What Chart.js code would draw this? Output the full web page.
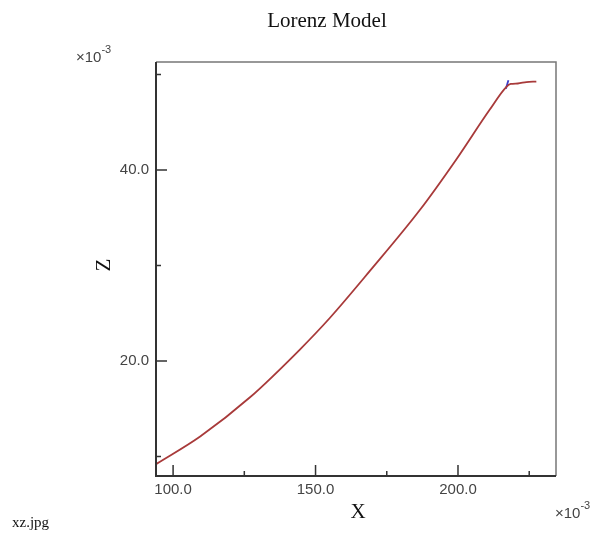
<!DOCTYPE html>
<html>
<head>
<meta charset="utf-8">
<script src="https://cdn.jsdelivr.net/npm/chart.js@4/dist/chart.umd.min.js"></script>
<style>
  html, body { margin: 0; padding: 0; background: #fff; }
  #wrap { position: relative; width: 597px; height: 534px; }
</style>
</head>
<body>
<div id="wrap"><canvas id="lorenz" width="597" height="534"></canvas></div>
<script>
// values (units of 1e-3)
const xValues = [94.0, 109.5, 127.0, 144.5, 155.0, 169.0, 186.6, 199.4, 211.1, 217.0, 218.5, 221.0, 224.0, 227.5];
const zValues = [9.2, 12.1, 16.2, 21.2, 24.5, 29.4, 35.8, 41.1, 46.3, 48.7, 49.0, 49.05, 49.2, 49.25];
const markX = [216.8, 217.7];
const markZ = [48.5, 49.4];

const xMajor = [100, 150, 200];
const xMinor = [125, 175, 225];
const zMajor = [20, 40];
const zMinor = [10, 30, 50];

const titleText = "Lorenz Model";
const xTitle = "X";
const zTitle = "Z";
const fileName = "xz.jpg";

const toPoints = (xs, ys) => xs.map((x, i) => ({x: x, y: ys[i]}));

// frame, inward ticks and loose texts
const decor = {
    id: "decor",
    afterDraw(chart) {
        const ctx = chart.ctx;
        const a = chart.chartArea;
        const sx = chart.scales.x, sy = chart.scales.y;
        ctx.save();

        ctx.strokeStyle = "#777";
        ctx.lineWidth = 1.5;
        ctx.beginPath();
        ctx.moveTo(a.left, a.top); ctx.lineTo(a.right, a.top); ctx.lineTo(a.right, a.bottom);
        ctx.stroke();

        ctx.strokeStyle = "#333";
        ctx.lineWidth = 2;
        ctx.beginPath();
        ctx.moveTo(a.left, a.top); ctx.lineTo(a.left, a.bottom); ctx.lineTo(a.right, a.bottom);
        ctx.stroke();

        ctx.lineWidth = 1.5;
        ctx.beginPath();
        xMajor.forEach(v => { let p = sx.getPixelForValue(v); ctx.moveTo(p, a.bottom); ctx.lineTo(p, a.bottom - 11); });
        xMinor.forEach(v => { let p = sx.getPixelForValue(v); ctx.moveTo(p, a.bottom); ctx.lineTo(p, a.bottom - 5); });
        zMajor.forEach(v => { let p = sy.getPixelForValue(v); ctx.moveTo(a.left, p); ctx.lineTo(a.left + 11, p); });
        zMinor.forEach(v => { let p = sy.getPixelForValue(v); ctx.moveTo(a.left, p); ctx.lineTo(a.left + 5, p); });
        ctx.stroke();

        ctx.fillStyle = "#111";
        ctx.font = "21px 'Liberation Serif'";
        ctx.textAlign = "center";
        ctx.textBaseline = "middle";
        ctx.fillText(titleText, 327, 21);
        ctx.fillText(xTitle, 358, 512);
        ctx.save();
        ctx.translate(104, 265);
        ctx.rotate(-Math.PI / 2);
        ctx.fillText(zTitle, 0, 0);
        ctx.restore();

        ctx.fillStyle = "#444";
        ctx.textAlign = "left";
        ctx.textBaseline = "alphabetic";
        const power = (x, y) => {
            ctx.font = "15px 'Liberation Sans'";
            ctx.fillText("\u00d710", x, y);
            let w = ctx.measureText("\u00d710").width;
            ctx.font = "11px 'Liberation Sans'";
            ctx.fillText("-3", x + w, y - 9);
        };
        power(76, 62);
        power(555, 518);

        ctx.fillStyle = "#111";
        ctx.font = "15px 'Liberation Serif'";
        ctx.fillText(fileName, 12, 527);
        ctx.restore();
    }
};

new Chart(document.querySelector("#lorenz").getContext("2d"), {
    type: "line",
    data: {
        datasets: [{
            label: "xz",
            data: toPoints(xValues, zValues),
            borderColor: "#a83a3a",
            borderWidth: 1.8,
            pointRadius: 0,
            cubicInterpolationMode: "monotone",
            fill: false
        }, {
            label: "mark",
            data: toPoints(markX, markZ),
            borderColor: "#3a3ac8",
            borderWidth: 1.8,
            pointRadius: 0,
            fill: false
        }]
    },
    options: {
        responsive: false,
        animation: false,
        layout: {padding: {left: 0, top: 62, right: 41, bottom: 0}},
        plugins: {legend: {display: false}, title: {display: false}, tooltip: {enabled: false}},
        scales: {
            x: {
                type: "linear",
                min: 94.0,
                max: 234.4,
                afterFit: s => { s.height = 58; },
                afterBuildTicks: s => { s.ticks = xMajor.map(v => ({value: v})); },
                grid: {display: false, drawTicks: false},
                border: {display: false},
                ticks: {
                    padding: 5,
                    maxRotation: 0,
                    color: "#444",
                    font: {family: "'Liberation Sans'", size: 15},
                    callback: v => v.toFixed(1)
                }
            },
            y: {
                type: "linear",
                min: 7.96,
                max: 51.3,
                afterFit: s => { s.width = 156; },
                afterBuildTicks: s => { s.ticks = zMajor.map(v => ({value: v})); },
                grid: {display: false, drawTicks: false},
                border: {display: false},
                ticks: {
                    padding: 7,
                    color: "#444",
                    font: {family: "'Liberation Sans'", size: 15},
                    callback: v => v.toFixed(1)
                }
            }
        }
    },
    plugins: [decor]
});
</script>
</body>
</html>
